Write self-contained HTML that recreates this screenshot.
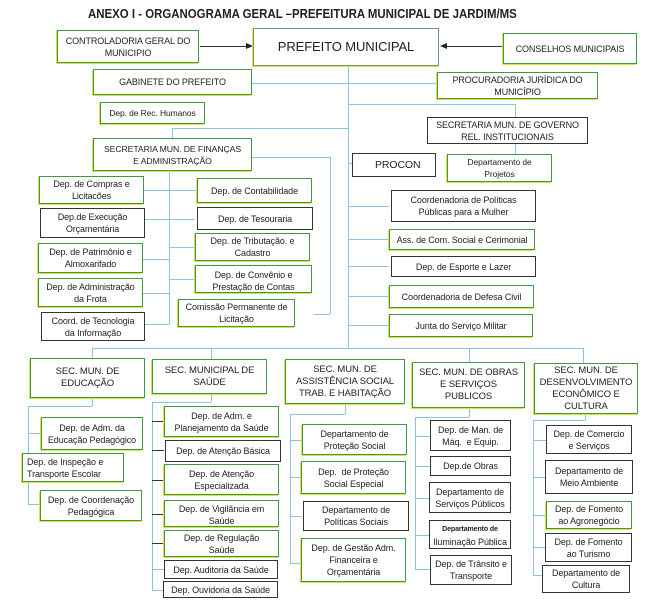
<!DOCTYPE html>
<html><head><meta charset="utf-8"><style>
body{margin:0;width:646px;height:607px;background:#fff;position:relative;overflow:hidden;font-family:"Liberation Sans",sans-serif;color:#222}
.b{position:absolute;box-sizing:border-box;display:flex;align-items:center;justify-content:center;text-align:center;font-size:9px;line-height:12px;background:#fff;letter-spacing:-0.1px}
.g{border:1.5px solid #3c9a45;box-shadow:-1px 1px 0 #e6df3a}
.k{border:1.2px solid #333}
.h{position:absolute;height:1px;background:#8cc4dc}
.v{position:absolute;width:1px;background:#8cc4dc}
.d{background:#333}
</style></head><body>
<div style="position:absolute;left:88px;top:6px;width:420px;font-weight:bold;font-size:13px;white-space:nowrap;transform-origin:0 0;transform:scaleX(0.88)">ANEXO I - ORGANOGRAMA GERAL –PREFEITURA MUNICIPAL DE JARDIM/MS</div>

<div class="h d" style="left:200px;top:46px;width:50px"></div>
<div style="position:absolute;left:246px;top:43px;border-left:7px solid #222;border-top:3.5px solid transparent;border-bottom:3.5px solid transparent"></div>
<div class="h d" style="left:447px;top:46px;width:56px"></div>
<div style="position:absolute;left:440px;top:43px;border-right:7px solid #222;border-top:3.5px solid transparent;border-bottom:3.5px solid transparent"></div>
<div class="v" style="left:348px;top:66px;height:283px"></div>
<div class="h" style="left:252px;top:83px;width:185px"></div>
<div class="h" style="left:348px;top:104px;width:167px"></div>
<div class="v" style="left:515px;top:104px;height:13px"></div>
<div class="v" style="left:515px;top:144px;height:10px"></div>
<div class="h" style="left:172px;top:128px;width:176px"></div>
<div class="v" style="left:172px;top:128px;height:10px"></div>
<div class="h" style="left:348px;top:163px;width:14px"></div>
<div class="h" style="left:252px;top:157px;width:79px"></div>
<div class="v" style="left:330px;top:157px;height:157px"></div>
<div class="h" style="left:314px;top:314px;width:16px"></div>
<div class="v" style="left:169px;top:171px;height:153px"></div>
<div class="h" style="left:144px;top:190px;width:53px"></div>
<div class="h" style="left:145px;top:219px;width:50px"></div>
<div class="h" style="left:169px;top:247px;width:26px"></div>
<div class="h" style="left:143px;top:259px;width:26px"></div>
<div class="h" style="left:169px;top:279px;width:26px"></div>
<div class="h" style="left:143px;top:293px;width:26px"></div>
<div class="h" style="left:145px;top:324px;width:24px"></div>
<div class="h" style="left:348px;top:206px;width:41px"></div>
<div class="h" style="left:348px;top:239px;width:41px"></div>
<div class="h" style="left:348px;top:266px;width:41px"></div>
<div class="h" style="left:348px;top:296px;width:41px"></div>
<div class="h" style="left:348px;top:325px;width:41px"></div>
<div class="h" style="left:92px;top:348px;width:492px"></div>
<div class="v" style="left:92px;top:348px;height:10px"></div>
<div class="v" style="left:211px;top:348px;height:11px"></div>
<div class="v" style="left:469px;top:348px;height:14px"></div>
<div class="v" style="left:583px;top:348px;height:15px"></div>
<div class="v" style="left:92px;top:398px;height:8px"></div>
<div class="h" style="left:28px;top:406px;width:64px"></div>
<div class="v" style="left:28px;top:406px;height:99px"></div>
<div class="h" style="left:28px;top:433px;width:13px"></div>
<div class="h" style="left:28px;top:467px;width:6px"></div>
<div class="h" style="left:28px;top:504px;width:12px"></div>
<div class="v" style="left:211px;top:394px;height:8px"></div>
<div class="h" style="left:152px;top:402px;width:59px"></div>
<div class="v" style="left:152px;top:402px;height:189px"></div>
<div class="h d" style="left:152px;top:421px;width:12px"></div>
<div class="h d" style="left:152px;top:450px;width:12px"></div>
<div class="h d" style="left:152px;top:480px;width:12px"></div>
<div class="h d" style="left:152px;top:514px;width:12px"></div>
<div class="h d" style="left:152px;top:543px;width:12px"></div>
<div class="h" style="left:152px;top:569px;width:12px"></div>
<div class="h" style="left:152px;top:590px;width:12px"></div>
<div class="v" style="left:345px;top:404px;height:10px"></div>
<div class="h" style="left:290px;top:414px;width:55px"></div>
<div class="v" style="left:290px;top:414px;height:149px"></div>
<div class="h" style="left:290px;top:440px;width:12px"></div>
<div class="h" style="left:290px;top:477px;width:12px"></div>
<div class="h" style="left:290px;top:516px;width:12px"></div>
<div class="h" style="left:290px;top:563px;width:12px"></div>
<div class="v" style="left:469px;top:408px;height:9px"></div>
<div class="h" style="left:415px;top:417px;width:54px"></div>
<div class="v" style="left:415px;top:417px;height:152px"></div>
<div class="h" style="left:415px;top:436px;width:15px"></div>
<div class="h" style="left:415px;top:466px;width:15px"></div>
<div class="h" style="left:415px;top:498px;width:15px"></div>
<div class="h" style="left:415px;top:535px;width:15px"></div>
<div class="h" style="left:415px;top:569px;width:15px"></div>
<div class="v" style="left:585px;top:414px;height:6px"></div>
<div class="h" style="left:533px;top:420px;width:52px"></div>
<div class="v" style="left:533px;top:420px;height:155px"></div>
<div class="h" style="left:533px;top:440px;width:13px"></div>
<div class="h" style="left:533px;top:477px;width:13px"></div>
<div class="h" style="left:533px;top:515px;width:13px"></div>
<div class="h" style="left:533px;top:547px;width:13px"></div>
<div class="h" style="left:533px;top:575px;width:10px"></div>

<div class="b g" style="left:57px;top:30px;width:142px;height:33px">CONTROLADORIA GERAL DO<br>MUNICIPIO</div>
<div class="b g" style="left:253px;top:28px;width:186px;height:38px;font-size:13px;border-color:#6a9a7a">PREFEITO MUNICIPAL</div>
<div class="b g" style="left:503px;top:33px;width:134px;height:31px">CONSELHOS MUNICIPAIS</div>
<div class="b g" style="left:93px;top:69px;width:159px;height:26px">GABINETE DO PREFEITO</div>
<div class="b g" style="left:437px;top:72px;width:161px;height:27px">PROCURADORIA JURÍDICA DO<br>MUNICÍPIO</div>
<div class="b g" style="left:100px;top:102px;width:105px;height:22px;font-size:8.5px">Dep. de Rec. Humanos</div>
<div class="b k" style="left:427px;top:117px;width:161px;height:27px">SECRETARIA MUN. DE GOVERNO<br>REL. INSTITUCIONAIS</div>
<div class="b g" style="left:93px;top:138px;width:159px;height:33px;font-size:8.7px">SECRETARIA MUN. DE FINANÇAS<br>E ADMINISTRAÇÃO</div>
<div class="b k" style="left:352px;top:153px;width:84px;height:24px;font-size:10.5px;justify-content:flex-start;padding-left:22px">PROCON</div>
<div class="b g" style="left:447px;top:154px;width:105px;height:28px;font-size:8.5px">Departamento de<br>Projetos</div>

<div class="b g" style="left:39px;top:176px;width:105px;height:28px">Dep. de Compras e<br>Licitacões</div>
<div class="b g" style="left:197px;top:178px;width:115px;height:25px">Dep. de Contabilidade</div>
<div class="b k" style="left:40px;top:208px;width:105px;height:30px">Dep.de Execução<br>Orçamentária</div>
<div class="b k" style="left:197px;top:207px;width:116px;height:23px">Dep. de Tesouraria</div>
<div class="b g" style="left:38px;top:243px;width:105px;height:30px">Dep. de Patrimônio e<br>Almoxarifado</div>
<div class="b g" style="left:195px;top:233px;width:115px;height:28px">Dep. de Tributação. e<br>Cadastro</div>
<div class="b g" style="left:38px;top:278px;width:105px;height:29px">Dep. de Administração<br>da Frota</div>
<div class="b g" style="left:195px;top:265px;width:117px;height:28px;align-items:flex-start;overflow:hidden;padding-top:3px">Dep. de Convênio e<br>Prestação de Contas</div>
<div class="b k" style="left:41px;top:312px;width:104px;height:29px">Coord. de Tecnologia<br>da Informação</div>
<div class="b g" style="left:178px;top:299px;width:117px;height:28px">Comissão Permanente de<br>Licitação</div>

<div class="b k" style="left:391px;top:190px;width:145px;height:32px">Coordenadoria de Políticas<br>Públicas para a Mulher</div>
<div class="b g" style="left:389px;top:229px;width:146px;height:21px">Ass. de Com. Social e Cerimonial</div>
<div class="b k" style="left:391px;top:256px;width:145px;height:21px">Dep. de Esporte e Lazer</div>
<div class="b g" style="left:389px;top:285px;width:145px;height:23px">Coordenadoria de Defesa Civil</div>
<div class="b g" style="left:389px;top:314px;width:144px;height:23px">Junta do Serviço Militar</div>

<div class="b g" style="left:30px;top:358px;width:115px;height:40px;font-size:9.5px">SEC. MUN. DE<br>EDUCAÇÃO</div>
<div class="b g" style="left:152px;top:359px;width:115px;height:35px;font-size:9.5px">SEC. MUNICIPAL DE<br>SAÚDE</div>
<div class="b g" style="left:285px;top:359px;width:120px;height:45px;font-size:9.5px">SEC. MUN. DE<br>ASSISTÊNCIA SOCIAL<br>TRAB. E HABITAÇÃO</div>
<div class="b g" style="left:412px;top:362px;width:113px;height:46px;font-size:9.5px;align-items:flex-start;padding-top:4px">SEC. MUN. DE OBRAS<br>E SERVIÇOS<br>PUBLICOS</div>
<div class="b g" style="left:534px;top:363px;width:104px;height:51px;font-size:9.5px">SEC. MUN. DE<br>DESENVOLVIMENTO<br>ECONÔMICO E<br>CULTURA</div>

<div class="b g" style="left:41px;top:417px;width:102px;height:33px">Dep. de Adm. da<br>Educação Pedagógico</div>
<div class="b g" style="left:22px;top:453px;width:102px;height:29px;justify-content:flex-start;padding-left:4px;text-align:left">Dep. de Inspeção e<br>Transporte Escolar</div>
<div class="b g" style="left:40px;top:490px;width:102px;height:31px">Dep. de Coordenação<br>Pedagógica</div>

<div class="b g" style="left:164px;top:406px;width:115px;height:31px">Dep. de Adm. e<br>Planejamento da Saúde</div>
<div class="b k" style="left:165px;top:440px;width:116px;height:22px">Dep. de Atenção Básica</div>
<div class="b g" style="left:164px;top:464px;width:115px;height:31px">Dep. de Atenção<br>Especializada</div>
<div class="b g" style="left:164px;top:500px;width:115px;height:27px;align-items:flex-start;overflow:hidden;padding-top:2px">Dep. de Vigilância em<br>Saúde</div>
<div class="b g" style="left:164px;top:530px;width:115px;height:27px">Dep. de Regulação<br>Saúde</div>
<div class="b k" style="left:164px;top:560px;width:114px;height:19px">Dep. Auditoria da Saúde</div>
<div class="b k" style="left:163px;top:581px;width:115px;height:17px">Dep. Ouvidoria da Saúde</div>

<div class="b g" style="left:302px;top:424px;width:105px;height:31px">Departamento de<br>Proteção Social</div>
<div class="b g" style="left:301px;top:461px;width:105px;height:33px">Dep.&nbsp; de Proteção<br>Social Especial</div>
<div class="b k" style="left:303px;top:501px;width:106px;height:30px">Departamento de<br>Políticas Sociais</div>
<div class="b g" style="left:301px;top:538px;width:105px;height:44px">Dep. de Gestão Adm.<br>Financeira e<br>Orçamentária</div>

<div class="b k" style="left:430px;top:420px;width:81px;height:31px">Dep. de Man. de<br>Máq.&nbsp; e Equip.</div>
<div class="b k" style="left:430px;top:456px;width:81px;height:20px">Dep.de Obras</div>
<div class="b k" style="left:429px;top:482px;width:82px;height:31px">Departamento de<br>Serviços Públicos</div>
<div class="b k" style="left:429px;top:520px;width:82px;height:29px"><span><b style="font-size:7px">Departamento de</b><br>Iluminação Pública</span></div>
<div class="b k" style="left:430px;top:555px;width:82px;height:30px">Dep. de Trânsito e<br>Transporte</div>

<div class="b k" style="left:546px;top:425px;width:86px;height:29px">Dep. de Comercio<br>e Serviços</div>
<div class="b k" style="left:545px;top:460px;width:88px;height:34px">Departamento de<br>Meio Ambiente</div>
<div class="b g" style="left:546px;top:501px;width:86px;height:28px">Dep. de Fomento<br>ao Agronegócio</div>
<div class="b k" style="left:545px;top:533px;width:87px;height:29px">Dep. de Fomento<br>ao Turismo</div>
<div class="b k" style="left:542px;top:565px;width:88px;height:28px">Departamento de<br>Cultura</div>
</body></html>
